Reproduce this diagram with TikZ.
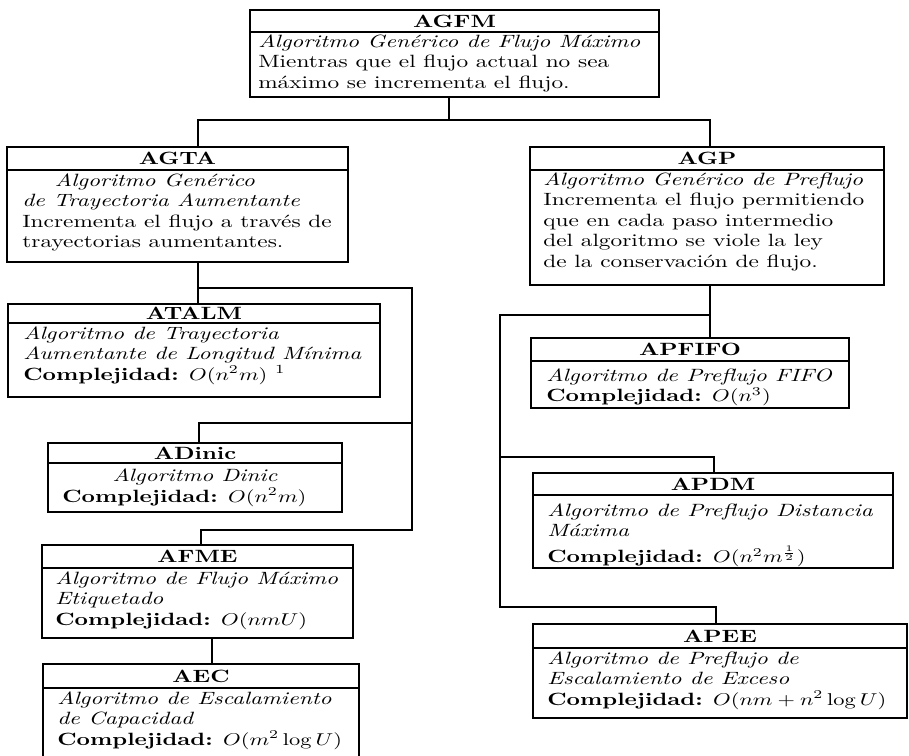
\documentclass[tikz,border=0pt]{standalone}
\usepackage{graphicx}
\usetikzlibrary{fit}
\newcommand\hs[1]{\scalebox{1.31}[1]{\fontsize{10.4}{12}\selectfont #1}}
\newcommand\cx{\textbf{Complejidad:}}
\tikzset{
  box/.style={draw, line width=0.9pt, inner sep=0pt, rectangle},
  sepl/.style={line width=0.9pt},
  hdr/.style={inner sep=0pt, font=\bfseries},
  body/.style={inner sep=0pt, anchor=base west},
  conn/.style={line width=0.9pt},
}
\newcommand\mybox[6]{%
  \node[box, fit={(#2,#3) (#4,#6)}] (#1) {};
  \draw[sepl] (#1.west |- 0,#5) -- (#1.east |- 0,#5);
  \node[hdr] (#1h) at ({(#2+#4)/2},{(#3+#5)/2}) {\hs{\bfseries #1}};
}
\begin{document}
\begin{tikzpicture}[x=0.585pt, y=-0.585pt]
\useasboundingbox (0,0) rectangle (909,755);
\fill[white] (0,0) rectangle (909,755);

% boxes: name, left, top, right, separator, bottom
\mybox{AGFM}{250}{10}{659}{32}{97}
\mybox{AGTA}{7}{147}{348}{170}{262}
\mybox{AGP}{530}{147}{884}{170}{285}
\mybox{ATALM}{8}{304}{380}{323}{397}
\mybox{ADinic}{48}{443}{342}{463}{512}
\mybox{AFME}{42}{545}{353}{568}{638}
\mybox{AEC}{43}{664}{359}{688}{764}
\mybox{APFIFO}{531}{338}{849}{361}{408}
\mybox{APDM}{533}{473}{893}{495}{568}
\mybox{APEE}{533}{624}{907}{648}{718}

% texts
\node[body] (AGFMb) at (258,47) {\hs{\begin{tabular}[t]{@{}l@{}}
  \textit{Algoritmo Genérico de Flujo Máximo}\\
  Mientras que el flujo actual no sea\\
  máximo se incrementa el flujo.\end{tabular}}};
\node[body] (AGTAb) at (22,186) {\hs{\begin{tabular}[t]{@{}l@{}}
  \hspace*{1.4em}\textit{Algoritmo Genérico}\\
  \textit{de Trayectoria Aumentante}\\
  Incrementa el flujo a través de\\
  trayectorias aumentantes.\end{tabular}}};
\node[body] (AGPb) at (543,185) {\hs{\begin{tabular}[t]{@{}l@{}}
  \textit{Algoritmo Genérico de Preflujo}\\
  Incrementa el flujo permitiendo\\
  que en cada paso intermedio\\
  del algoritmo se viole la ley\\
  de la conservación de flujo.\end{tabular}}};
\node[body] (ATALMb) at (23,339) {\hs{\begin{tabular}[t]{@{}l@{}}
  \textit{Algoritmo de Trayectoria}\\
  \textit{Aumentante de Longitud Mínima}\\
  \cx{} $O(n^2m)$ \textsuperscript{1}\end{tabular}}};
\node[inner sep=0pt, anchor=base] (ADinicb) at (195,481) {\hs{\textit{Algoritmo Dinic}}};
\node[body] (ADinicc) at (62,502) {\hs{\cx{} $O(n^2m)$}};
\node[body] (AFMEb) at (55,584) {\hs{\begin{tabular}[t]{@{}l@{}}
  \textit{Algoritmo de Flujo Máximo}\\
  \textit{Etiquetado}\\
  \cx{} $O(nmU)$\end{tabular}}};
\node[body] (AECb) at (57,704) {\hs{\begin{tabular}[t]{@{}l@{}}
  \textit{Algoritmo de Escalamiento}\\
  \textit{de Capacidad}\\
  \cx{} $O(m^2\log U)$\end{tabular}}};
\node[body] (APFIFOb) at (546,381) {\hs{\begin{tabular}[t]{@{}l@{}}
  \textit{Algoritmo de Preflujo FIFO}\\
  \cx{} $O(n^3)$\end{tabular}}};
\node[body] (APDMb) at (547,516) {\hs{\begin{tabular}[t]{@{}l@{}}
  \textit{Algoritmo de Preflujo Distancia}\\
  \textit{Máxima}\\[2pt]
  \cx{} $O(n^2m^{\frac{1}{2}})$\end{tabular}}};
\node[body] (APEEb) at (547,664) {\hs{\begin{tabular}[t]{@{}l@{}}
  \textit{Algoritmo de Preflujo de}\\
  \textit{Escalamiento de Exceso}\\
  \cx{} $O(nm+n^2\log U)$\end{tabular}}};

% junction coordinates
\coordinate (j0) at (449,120);
\coordinate (jL) at (198,120);
\coordinate (jR) at (710,120);
\coordinate (a1) at (198,288);
\coordinate (a2) at (412,288);
\coordinate (a3) at (412,423);
\coordinate (a4) at (199,423);
\coordinate (a5) at (412,530);
\coordinate (a6) at (201,530);
\coordinate (a7) at (212,650);
\coordinate (b1) at (710,315);
\coordinate (b2) at (500,315);
\coordinate (b3) at (500,457);
\coordinate (b4) at (714,457);
\coordinate (b5) at (500,607);
\coordinate (b6) at (716,607);

% connectors
\draw[conn] (j0 |- AGFM.south) -- (j0);
\draw[conn] (jL |- AGTA.north) -- (jL) -- (jR) -- (jR |- AGP.north);
\draw[conn] (a1 |- AGTA.south) -- (a1 |- ATALM.north);
\draw[conn] (a1) -- (a2) -- (a5) -- (a6) -- (a6 |- AFME.north);
\draw[conn] (a3) -- (a4) -- (a4 |- ADinic.north);
\draw[conn] (a7 |- AFME.south) -- (a7 |- AEC.north);
\draw[conn] (b1 |- AGP.south) -- (b1 |- APFIFO.north);
\draw[conn] (b1) -- (b2) -- (b5) -- (b6) -- (b6 |- APEE.north);
\draw[conn] (b3) -- (b4) -- (b4 |- APDM.north);
\end{tikzpicture}
\end{document}
